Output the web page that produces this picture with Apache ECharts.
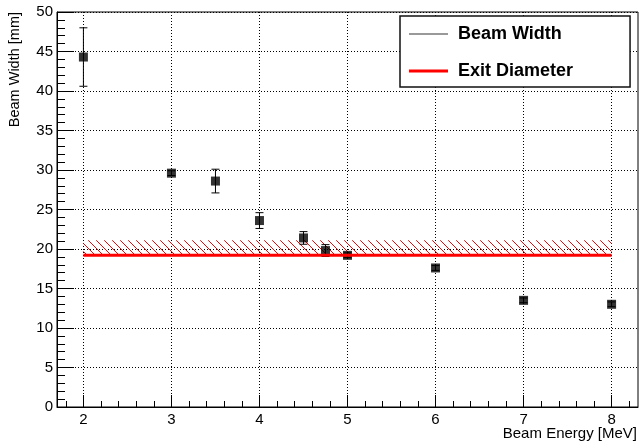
<!DOCTYPE html>
<html>
<head>
<meta charset="UTF-8">
<script src="https://cdn.jsdelivr.net/npm/echarts@6/dist/echarts.min.js"></script>
<style>
  html, body { margin: 0; padding: 0; background: #fff; }
  #chart { width: 639px; height: 441px; }
</style>
</head>
<body>
<div id="chart"></div>
<script>
// beam width measurements
var energies = [2, 3, 3.5, 4, 4.5, 4.75, 5, 6, 7, 8];
var widths = [44.3, 29.6, 28.6, 23.6, 21.4, 19.8, 19.2, 17.6, 13.5, 13.0];
var widthErrors = [3.7, 0.3, 1.5, 1.0, 0.8, 0.75, 0.3, 0.3, 0.3, 0.3];

// exit diameter (line + hatched band above it)
var exitEnergies = [2, 8];
var exitDiameter = 19.2;
var exitBandTop = 21.1;

var xTickValues = [2, 3, 4, 5, 6, 7, 8];

var FONT = "'Liberation Sans', Arial, sans-serif";

// red hatch pattern for the exclusion band
var hatch = document.createElement('canvas');
hatch.width = 8; hatch.height = 8;
var hc = hatch.getContext('2d');
hc.strokeStyle = '#ff0000';
hc.lineWidth = 1;
hc.beginPath();
hc.moveTo(0, 0); hc.lineTo(8, 8);
hc.moveTo(-2, 6); hc.lineTo(2, 10);
hc.moveTo(6, -2); hc.lineTo(10, 2);
hc.stroke();

var points = energies.map(function (e, i) { return [e, widths[i]]; });
var errBars = energies.map(function (e, i) {
    return [e, widths[i] - widthErrors[i], widths[i] + widthErrors[i]];
});
var exitLine = exitEnergies.map(function (e) { return [e, exitDiameter]; });

var chart = echarts.init(document.getElementById('chart'));
chart.setOption({
    animation: false,
    backgroundColor: '#fff',
    grid: {
        left: 57, top: 12, right: 1, bottom: 34,
        outerBoundsMode: 'none', containLabel: false,
        show: true, borderColor: '#000', borderWidth: 1
    },
    legend: {
        left: 400, top: 16, orient: 'vertical',
        padding: [9, 57, 7, 9],
        itemWidth: 39, itemHeight: 14, itemGap: 19,
        borderColor: '#111', borderWidth: 1.5, backgroundColor: '#fff',
        textStyle: { fontFamily: FONT, fontWeight: 'bold', fontSize: 18, color: '#000', padding: [0, 0, 0, 5] },
        data: [
            { name: 'Beam Width', icon: 'path://M0,0H39V1H0Z' },
            { name: 'Exit Diameter', icon: 'path://M0,0H39V3H0Z' }
        ]
    },
    xAxis: {
        type: 'value', min: 1.7, max: 8.3, splitNumber: 6,
        name: 'Beam Energy [MeV]', nameLocation: 'end', nameGap: -1, nameMoveOverlap: false,
        nameTextStyle: { fontFamily: FONT, fontSize: 15, color: '#000', align: 'right', verticalAlign: 'top', padding: [19, 0, 0, 0] },
        axisLine: { lineStyle: { color: '#000', width: 1 } },
        axisTick: { inside: true, length: 12, customValues: xTickValues, lineStyle: { color: '#000' } },
        minorTick: { show: true, splitNumber: 5, length: 6, lineStyle: { color: '#000' } },
        axisLabel: { customValues: xTickValues, margin: 5, fontFamily: FONT, fontSize: 15, color: '#000' },
        splitLine: { show: true, lineStyle: { color: '#000', type: [1, 2], width: 1 } }
    },
    yAxis: {
        type: 'value', min: 0, max: 50, interval: 5,
        name: 'Beam Width [mm]', nameLocation: 'end', nameRotate: 90, nameGap: 0, nameMoveOverlap: false,
        nameTextStyle: { fontFamily: FONT, fontSize: 14.5, color: '#000', align: 'right', verticalAlign: 'bottom', padding: [0, 0, 35, 0] },
        axisLine: { show: true, lineStyle: { color: '#000', width: 1 } },
        axisTick: { show: true, inside: true, length: 17, lineStyle: { color: '#000' } },
        minorTick: { show: true, splitNumber: 5, length: 8, lineStyle: { color: '#000' } },
        axisLabel: { margin: 4, fontFamily: FONT, fontSize: 15, color: '#000' },
        splitLine: { show: true, lineStyle: { color: '#000', type: [1, 2], width: 1 } }
    },
    series: [
        {
            name: 'Beam Width', type: 'scatter', data: points,
            symbol: 'rect', symbolSize: 9, itemStyle: { color: '#000' }, z: 3
        },
        {
            name: 'errors', type: 'custom', data: errBars, z: 3,
            renderItem: function (params, api) {
                var x = api.value(0);
                var lo = api.coord([x, api.value(1)]);
                var hi = api.coord([x, api.value(2)]);
                var cap = 4;
                var style = { stroke: '#000', lineWidth: 1 };
                return {
                    type: 'group',
                    children: [
                        { type: 'line', shape: { x1: lo[0], y1: lo[1], x2: hi[0], y2: hi[1] }, style: style },
                        { type: 'line', shape: { x1: lo[0] - cap, y1: lo[1], x2: lo[0] + cap, y2: lo[1] }, style: style },
                        { type: 'line', shape: { x1: hi[0] - cap, y1: hi[1], x2: hi[0] + cap, y2: hi[1] }, style: style }
                    ]
                };
            }
        },
        {
            name: 'Exit Diameter', type: 'line', data: exitLine, symbol: 'none', z: 5,
            lineStyle: { color: '#ff0000', width: 3 }, itemStyle: { color: '#ff0000' },
            markArea: {
                silent: true,
                itemStyle: { color: { image: hatch, repeat: 'repeat' } },
                data: [[{ coord: [exitEnergies[0], exitBandTop] }, { coord: [exitEnergies[1], exitDiameter] }]]
            }
        }
    ]
});
</script>
</body>
</html>
